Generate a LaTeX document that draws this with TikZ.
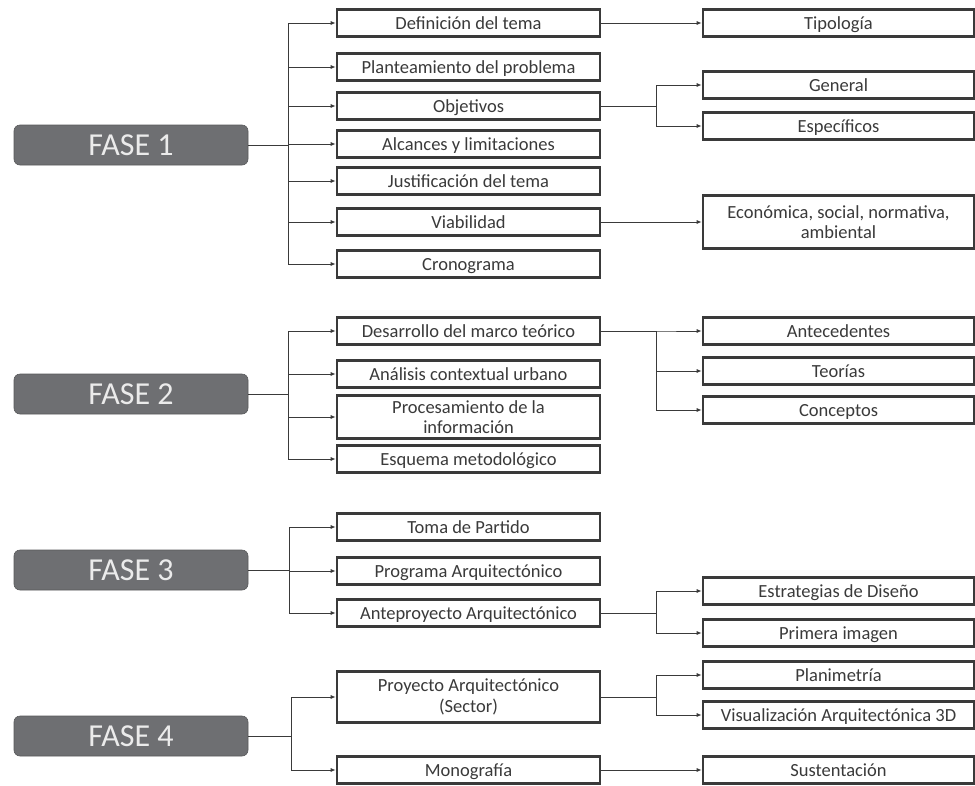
\documentclass[tikz,border=0pt]{standalone}
\usepackage{fontspec}
\setmainfont{Carlito}
\usetikzlibrary{arrows.meta}
\definecolor{boxline}{HTML}{3A3A3A}
\definecolor{boxtext}{HTML}{3A3A3A}
\definecolor{fasefill}{HTML}{6E6F72}
\begin{document}
\begin{tikzpicture}[x=1pt,y=-1pt,
  fase/.style={fill=fasefill, draw=fasefill!80!black, line width=0.6pt, rounded corners=6pt,
    minimum width=234pt, minimum height=40pt, inner sep=0pt, text=white!92!black,
    text height=21pt, text depth=0pt, font=\fontsize{32}{34}\selectfont},
  midbox/.style={draw=boxline, line width=2.6pt, fill=white, minimum width=263pt, minimum height=27pt,
    inner sep=1pt, text=boxtext, align=center, text height=13.5pt, text depth=1.5pt,
    font=\fontsize{18.5}{20.5}\selectfont},
  rbox/.style={midbox, minimum width=271pt},
  twoline/.style={text height=, text depth=},
  conn/.style={draw=boxline, line width=0.9pt, -{Latex[length=5pt,width=4pt]}}]
\useasboundingbox (0,0) rectangle (975,785);

% ---------- FASE 1 ----------
\node[fase] (f1) at (131,145) {FASE 1};
\node[midbox] (a1) at (468.5,23) {Definición del tema};
\node[midbox] (a2) at (468.5,67) {Planteamiento del problema};
\node[midbox] (a3) at (468.5,106) {Objetivos};
\node[midbox] (a4) at (468.5,144) {Alcances y limitaciones};
\node[midbox] (a5) at (468.5,181) {Justificación del tema};
\node[midbox] (a6) at (468.5,222) {Viabilidad};
\node[midbox] (a7) at (468.5,264) {Cronograma};
\node[rbox] (r1) at (838.5,23) {Tipología};
\node[rbox] (r2) at (838.5,85) {General};
\node[rbox] (r3) at (838.5,126) {Específicos};
\node[rbox, twoline, minimum height=53pt] (r4) at (838.5,222) {Económica, social, normativa,\\ambiental};

\foreach \c in {a1,a2,a3,a4,a5,a6,a7}
  \draw[conn] (f1.east) -- ([xshift=40pt]f1.east) |- (\c.west);
\draw[conn] (a1.east) -- (r1.west);
\foreach \c in {r2,r3}
  \draw[conn] (a3.east) -- ([xshift=55pt]a3.east) |- (\c.west);
\draw[conn] (a6.east) -- (r4.west);

% ---------- FASE 2 ----------
\node[fase] (f2) at (131,394) {FASE 2};
\node[midbox] (b1) at (468.5,331) {Desarrollo del marco teórico};
\node[midbox] (b2) at (468.5,374) {Análisis contextual urbano};
\node[midbox, twoline, minimum height=43pt] (b3) at (468.5,417) {Procesamiento de la\\información};
\node[midbox] (b4) at (468.5,459) {Esquema metodológico};
\node[rbox] (s1) at (838.5,331) {Antecedentes};
\node[rbox] (s2) at (838.5,371) {Teorías};
\node[rbox] (s3) at (838.5,410) {Conceptos};

\foreach \c in {b1,b2,b3,b4}
  \draw[conn] (f2.east) -- ([xshift=40pt]f2.east) |- (\c.west);
\foreach \c in {s1,s2,s3}
  \draw[conn] (b1.east) -- ([xshift=55pt]b1.east) |- (\c.west);

% ---------- FASE 3 ----------
\node[fase] (f3) at (131,570) {FASE 3};
\node[midbox] (c1) at (468.5,527) {Toma de Partido};
\node[midbox] (c2) at (468.5,571) {Programa Arquitectónico};
\node[midbox] (c3) at (468.5,613) {Anteproyecto Arquitectónico};
\node[rbox] (t1) at (838.5,591) {Estrategias de Diseño};
\node[rbox] (t2) at (838.5,633) {Primera imagen};

\foreach \c in {c1,c2,c3}
  \draw[conn] (f3.east) -- ([xshift=41pt]f3.east) |- (\c.west);
\foreach \c in {t1,t2}
  \draw[conn] (c3.east) -- ([xshift=55pt]c3.east) |- (\c.west);

% ---------- FASE 4 ----------
\node[fase] (f4) at (131,736) {FASE 4};
\node[midbox, twoline, minimum height=51pt] (d1) at (468.5,697) {Proyecto Arquitectónico\\(Sector)};
\node[midbox] (d2) at (468.5,770) {Monografía};
\node[rbox] (u1) at (838.5,675) {Planimetría};
\node[rbox] (u2) at (838.5,715) {Visualización Arquitectónica 3D};
\node[rbox] (u3) at (838.5,770) {Sustentación};

\foreach \c in {d1,d2}
  \draw[conn] (f4.east) -- ([xshift=43pt]f4.east) |- (\c.west);
\foreach \c in {u1,u2}
  \draw[conn] (d1.east) -- ([xshift=55pt]d1.east) |- (\c.west);
\draw[conn] (d2.east) -- (u3.west);
\end{tikzpicture}
\end{document}
